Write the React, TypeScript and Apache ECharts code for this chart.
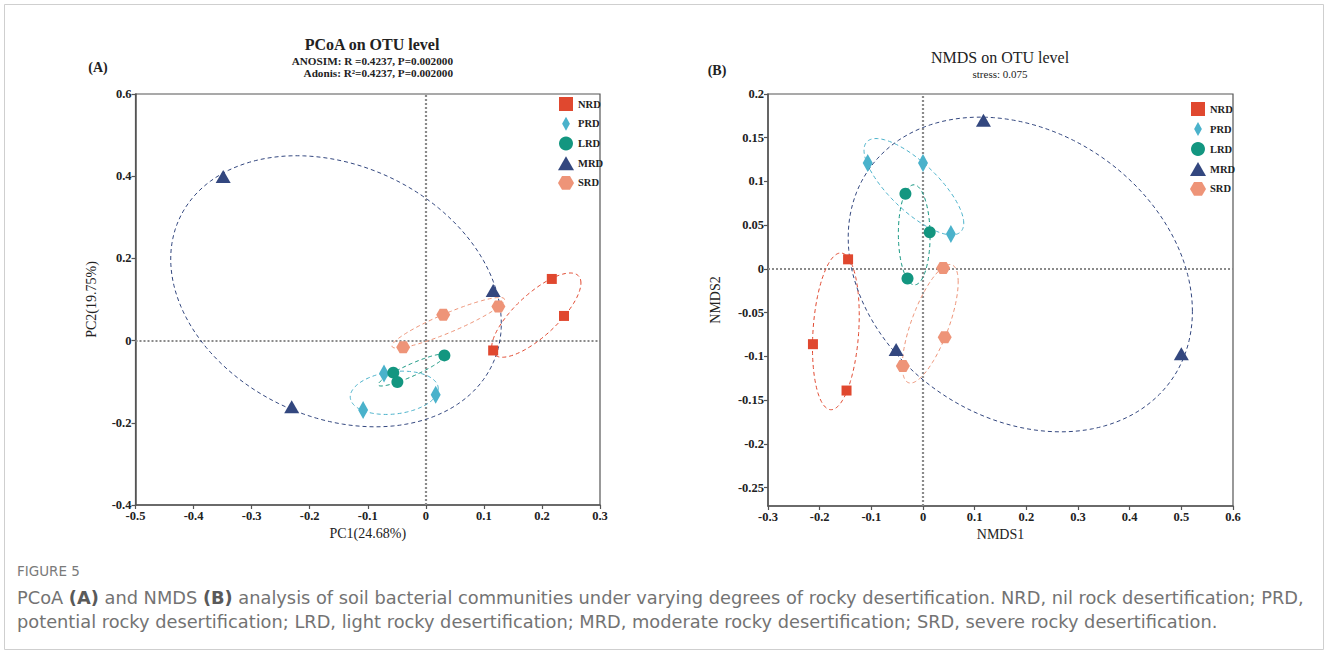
import React, { useEffect, useRef } from "react";
import * as echarts from "echarts";

// ---------- data ----------
const groups = ["NRD", "PRD", "LRD", "MRD", "SRD"];
const groupColors = ["#E0482F", "#4AB2CB", "#139680", "#33477F", "#EE9478"];

// PCoA (A): [PC1, PC2]
const pcoaNRD = [[0.217, 0.150], [0.238, 0.060], [0.116, -0.024]];
const pcoaPRD = [[-0.072, -0.080], [-0.108, -0.169], [0.017, -0.132]];
const pcoaLRD = [[-0.056, -0.078], [-0.049, -0.101], [0.032, -0.036]];
const pcoaMRD = [[-0.349, 0.399], [-0.231, -0.161], [0.116, 0.122]];
const pcoaSRD = [[-0.039, -0.016], [0.030, 0.063], [0.125, 0.083]];

// NMDS (B): [NMDS1, NMDS2]
const nmdsNRD = [[-0.145, 0.011], [-0.213, -0.086], [-0.148, -0.139]];
const nmdsPRD = [[-0.107, 0.121], [0.000, 0.121], [0.054, 0.040]];
const nmdsLRD = [[-0.034, 0.086], [0.013, 0.042], [-0.030, -0.011]];
const nmdsMRD = [[0.117, 0.170], [-0.052, -0.092], [0.500, -0.097]];
const nmdsSRD = [[0.039, 0.001], [0.042, -0.078], [-0.039, -0.111]];

const nmdsYTicks = [-0.25, -0.2, -0.15, -0.1, -0.05, 0, 0.05, 0.1, 0.15, 0.2];

const pcoaData = [pcoaNRD, pcoaPRD, pcoaLRD, pcoaMRD, pcoaSRD];
const nmdsData = [nmdsNRD, nmdsPRD, nmdsLRD, nmdsMRD, nmdsSRD];

// caption pieces: [text, bold]
const captionLine1: [string, boolean][] = [
  ["PCoA ", false],
  ["(A)", true],
  [" and NMDS ", false],
  ["(B)", true],
  [" analysis of soil bacterial communities under varying degrees of rocky desertification. NRD, nil rock desertification; PRD,", false],
];
const captionLine2 =
  "potential rocky desertification; LRD, light rocky desertification; MRD, moderate rocky desertification; SRD, severe rocky desertification.";

// ---------- styles ----------
const SERIF = "Liberation Serif";
const SANS = "DejaVu Sans";
const CAP_SIZE = 17.8;
const HEX_PATH = "path://M0,4.33L2.5,0L7.5,0L10,4.33L7.5,8.66L2.5,8.66Z";
const DIAMOND_PATH = "path://M5,0L10,9L5,18L0,9Z";
const SQUARE_PATH = "path://M0,0L10,0L10,10L0,10Z";
const markerSymbols = ["rect", "diamond", "circle", "triangle", HEX_PATH];
const markerSizes: any[] = [[10, 10], [10, 18], 12, [15, 13], [14, 12]];
const legendIcons = [SQUARE_PATH, DIAMOND_PATH, "circle", "triangle", HEX_PATH];

// Steiner circum-ellipse of the group's points (scaled by k)
function groupEllipse(pts: number[][], k: number, n = 160) {
  const m = pts.length;
  let mx = 0, my = 0;
  pts.forEach((p) => { mx += p[0]; my += p[1]; });
  mx /= m; my /= m;
  let sxx = 0, syy = 0, sxy = 0;
  pts.forEach((p) => {
    const dx = p[0] - mx, dy = p[1] - my;
    sxx += dx * dx; syy += dy * dy; sxy += dx * dy;
  });
  sxx /= m; syy /= m; sxy /= m;
  const l11 = Math.sqrt(sxx);
  const l21 = sxy / l11;
  const l22 = Math.sqrt(Math.max(syy - l21 * l21, 0));
  const r = Math.sqrt(2) * k;
  const out: number[][] = [];
  for (let i = 0; i <= n; i++) {
    const t = (2 * Math.PI * i) / n;
    const u = Math.cos(t), v = Math.sin(t);
    out.push([mx + r * l11 * u, my + r * (l21 * u + l22 * v)]);
  }
  return out;
}

const fmt = (v: number) => (Math.abs(v) < 1e-9 ? "0" : String(+v.toFixed(2)));

function axisCommon() {
  return {
    type: "value" as const,
    axisLine: { show: true, onZero: false, lineStyle: { color: "#555", width: 1.5 } },
    axisTick: { show: true, inside: false, length: 4, lineStyle: { color: "#555", width: 1.2 } },
    splitLine: { show: false },
    axisLabel: {
      color: "#222", fontFamily: SERIF, fontWeight: "bold" as const, fontSize: 12.5, margin: 4,
      formatter: fmt,
    },
    nameTextStyle: { color: "#222", fontFamily: SERIF, fontSize: 14 },
    nameLocation: "middle" as const,
  };
}

function buildSeries(data: number[][][], gi: number) {
  const series: any[] = [];
  data.forEach((pts, i) => {
    series.push({
      name: groups[i] + " ellipse",
      type: "line",
      xAxisIndex: gi,
      yAxisIndex: gi,
      data: groupEllipse(pts, 1.02),
      showSymbol: false,
      symbol: "none",
      silent: true,
      z: 2,
      lineStyle: { color: groupColors[i], width: 1, type: [4, 3] },
    });
  });
  data.forEach((pts, i) => {
    series.push({
      name: groups[i],
      type: "scatter",
      xAxisIndex: gi,
      yAxisIndex: gi,
      data: pts,
      symbol: markerSymbols[i],
      symbolSize: markerSizes[i],
      itemStyle: { color: groupColors[i], opacity: 1 },
      z: 5,
      ...(i === 0
        ? {
            markLine: {
              silent: true,
              symbol: "none",
              label: { show: false },
              lineStyle: { color: "#8a8a8a", width: 2.2, type: [2, 2] },
              data: [{ xAxis: 0 }, { yAxis: 0 }],
              z: 1,
            },
          }
        : {}),
    });
  });
  return series;
}

function legendFor(left: number, top: number, gap: number) {
  return {
    orient: "vertical" as const,
    left,
    top,
    itemWidth: 16,
    itemHeight: 14,
    itemGap: gap,
    padding: 0,
    textStyle: { fontFamily: SERIF, fontWeight: "bold" as const, fontSize: 10.5, color: "#222", padding: [0, 0, 0, -1] },
    data: groups.map((g, i) => ({ name: g, icon: legendIcons[i], itemStyle: { color: groupColors[i] } })),
  };
}

function captionGraphics() {
  const ctx = document.createElement("canvas").getContext("2d")!;
  const els: any[] = [];
  let x = 17;
  captionLine1.forEach(([t, bold]) => {
    ctx.font = `${bold ? "bold " : ""}${CAP_SIZE}px "${SANS}"`;
    els.push({
      type: "text", x, y: 597,
      style: {
        text: t, fontFamily: SANS, fontSize: CAP_SIZE, lineHeight: 20, fontWeight: bold ? "bold" : "normal",
        fill: bold ? "#5a5a5a" : "#737373", textAlign: "left", textVerticalAlign: "middle",
      },
    });
    x += ctx.measureText(t).width;
  });
  els.push({
    type: "text", x: 17, y: 621,
    style: {
      text: captionLine2, fontFamily: SANS, fontSize: CAP_SIZE, lineHeight: 20, fill: "#737373",
      textAlign: "left", textVerticalAlign: "middle",
    },
  });
  return els;
}

export default function App() {
  const ref = useRef<HTMLDivElement>(null);
  useEffect(() => {
    document.body.style.margin = "0";
    const chart = echarts.init(ref.current!, null, { renderer: "svg" });
    const option: any = {
      animation: false,
      backgroundColor: "#ffffff",
      grid: [
        { left: 135.5, top: 94, width: 464.5, height: 411, show: true, borderColor: "#555", borderWidth: 1.2, backgroundColor: "transparent" },
        { left: 768, top: 94, width: 465, height: 412, show: true, borderColor: "#555", borderWidth: 1.2, backgroundColor: "transparent" },
      ],
      xAxis: [
        { ...axisCommon(), gridIndex: 0, min: -0.5, max: 0.3, interval: 0.1, name: "PC1(24.68%)", nameGap: 19 },
        { ...axisCommon(), gridIndex: 1, min: -0.3, max: 0.6, interval: 0.1, name: "NMDS1", nameGap: 19 },
      ],
      yAxis: [
        { ...axisCommon(), gridIndex: 0, min: -0.4, max: 0.6, interval: 0.2, name: "PC2(19.75%)", nameGap: 37 },
        {
          ...axisCommon(),
          gridIndex: 1,
          min: -0.271,
          max: 0.2,
          name: "NMDS2",
          nameGap: 46,
          axisLabel: { ...axisCommon().axisLabel, customValues: nmdsYTicks },
          axisTick: { ...axisCommon().axisTick, customValues: nmdsYTicks },
        },
      ],
      legend: [legendFor(558, 97, 5.75), legendFor(1190, 102, 6)],
      series: [...buildSeries(pcoaData, 0), ...buildSeries(nmdsData, 1)],
      graphic: [
        { type: "rect", shape: { x: 4.5, y: 4.5, width: 1319, height: 645 }, style: { fill: "none", stroke: "#cfcfcf", lineWidth: 1 }, silent: true },
        { type: "text", x: 98, y: 67, style: { text: "(A)", fontFamily: SERIF, fontWeight: "bold", fontSize: 14, fill: "#222", textAlign: "center", textVerticalAlign: "middle" } },
        { type: "text", x: 372, y: 44, style: { text: "PCoA on OTU level", fontFamily: SERIF, fontWeight: "bold", fontSize: 16, fill: "#222", textAlign: "center", textVerticalAlign: "middle" } },
        { type: "text", x: 453, y: 61, style: { text: "ANOSIM: R =0.4237, P=0.002000", fontFamily: SERIF, fontWeight: "bold", fontSize: 11.2, fill: "#222", textAlign: "right", textVerticalAlign: "middle" } },
        { type: "text", x: 453, y: 73, style: { text: "Adonis: R²=0.4237, P=0.002000", fontFamily: SERIF, fontWeight: "bold", fontSize: 11.2, fill: "#222", textAlign: "right", textVerticalAlign: "middle" } },
        { type: "text", x: 717, y: 70, style: { text: "(B)", fontFamily: SERIF, fontWeight: "bold", fontSize: 14, fill: "#222", textAlign: "center", textVerticalAlign: "middle" } },
        { type: "text", x: 1000, y: 57, style: { text: "NMDS on OTU level", fontFamily: SERIF, fontSize: 16, fill: "#222", textAlign: "center", textVerticalAlign: "middle" } },
        { type: "text", x: 1000, y: 73.5, style: { text: "stress: 0.075", fontFamily: SERIF, fontSize: 11, fill: "#222", textAlign: "center", textVerticalAlign: "middle" } },
        { type: "text", x: 17, y: 571, style: { text: "FIGURE 5", fontFamily: SANS, fontSize: 13.5, fill: "#7a7a7a", textAlign: "left", textVerticalAlign: "middle" } },
        ...captionGraphics(),
      ],
    };
    chart.setOption(option);
    return () => chart.dispose();
  }, []);
  return <div ref={ref} style={{ width: 1328, height: 655 }} />;
}
